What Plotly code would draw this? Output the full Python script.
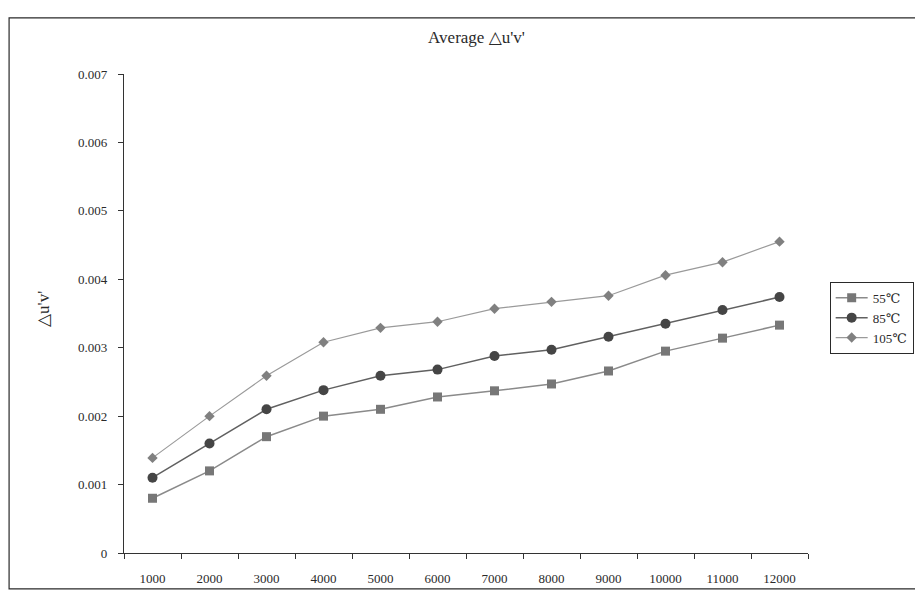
import plotly.graph_objects as go

# ─── Data ─────────────────────────────────────────────────────────────────────
hours = ["1000", "2000", "3000", "4000", "5000", "6000",
         "7000", "8000", "9000", "10000", "11000", "12000"]

duv_55 = [0.0008, 0.0012, 0.0017, 0.0020, 0.0021, 0.00228,
          0.00237, 0.00247, 0.00266, 0.00295, 0.00314, 0.00333]
duv_85 = [0.0011, 0.0016, 0.0021, 0.00238, 0.00259, 0.00268,
          0.00288, 0.00297, 0.00316, 0.00335, 0.00355, 0.00374]
duv_105 = [0.00139, 0.0020, 0.00259, 0.00308, 0.00329, 0.00338,
           0.00357, 0.00367, 0.00376, 0.00406, 0.00425, 0.00455]

y_ticks = [0, 0.001, 0.002, 0.003, 0.004, 0.005, 0.006, 0.007]
y_labels = ["0", "0.001", "0.002", "0.003", "0.004", "0.005", "0.006", "0.007"]

FONT = "Liberation Serif, DejaVu Serif, serif"
INK = "#2a2a2a"

fig = go.Figure()

fig.add_trace(go.Scatter(
    x=hours, y=duv_55, name="55℃", mode="lines+markers",
    line=dict(color="#8a8a8a", width=1.5),
    marker=dict(symbol="square", size=9, color="#777777"),
))
fig.add_trace(go.Scatter(
    x=hours, y=duv_85, name="85℃", mode="lines+markers",
    line=dict(color="#606060", width=1.5),
    marker=dict(symbol="circle", size=10, color="#454545"),
))
fig.add_trace(go.Scatter(
    x=hours, y=duv_105, name="105℃", mode="lines+markers",
    line=dict(color="#9a9a9a", width=1.2),
    marker=dict(symbol="diamond", size=8, color="#808080"),
))

# outer chart border
fig.add_shape(
    type="rect", xref="paper", yref="paper",
    x0=-0.168, x1=1.162, y0=-0.075, y1=1.117,
    line=dict(color=INK, width=1.2),
)

# y axis title
fig.add_annotation(
    text="△u'v'", xref="paper", yref="paper",
    x=-0.118, y=0.51, showarrow=False, textangle=-90,
    xanchor="center", yanchor="middle",
    font=dict(size=17, color=INK, family=FONT),
)

# page body adds ~8px offset, so plot area margins are shifted by that amount
fig.update_layout(
    width=915, height=585,
    paper_bgcolor="white",
    plot_bgcolor="white",
    margin=dict(l=116, r=115, t=66, b=40, autoexpand=False),
    font=dict(family=FONT, size=13, color=INK),
    title=dict(text="Average △u'v'", x=0.512, y=0.96, xanchor="center",
               font=dict(size=17, family=FONT, color=INK)),
    xaxis=dict(
        type="category", range=[-0.5, 11.5],
        tickson="boundaries", ticks="outside",
        ticklen=5, tickcolor="#333333", ticklabelstandoff=13,
        showline=True, linecolor="#333333", linewidth=1.2,
        showgrid=False, zeroline=False,
        tickfont=dict(size=13, family=FONT, color=INK),
    ),
    yaxis=dict(
        range=[0, 0.007], tickvals=y_ticks, ticktext=y_labels,
        ticks="outside", ticklen=5, tickcolor="#333333", ticklabelstandoff=8,
        showline=True, linecolor="#333333", linewidth=1.2,
        showgrid=False, zeroline=False,
        tickfont=dict(size=13, family=FONT, color=INK),
    ),
    legend=dict(
        xref="container", yref="container",
        x=0.898, y=0.532, xanchor="left", yanchor="top",
        bordercolor=INK, borderwidth=1,
        bgcolor="white", font=dict(size=13, family=FONT, color=INK),
        itemwidth=32, tracegroupgap=2,
    ),
)

fig.write_html("out.html")
